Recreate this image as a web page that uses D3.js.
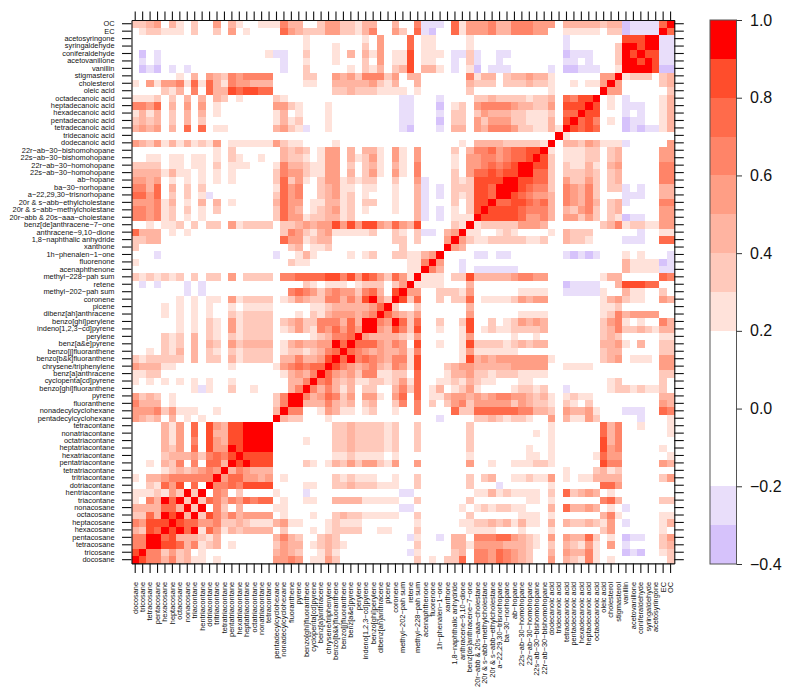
<!DOCTYPE html>
<html><head><meta charset="utf-8">
<script src="https://cdn.jsdelivr.net/npm/d3@7"></script>
<style>html,body{margin:0;padding:0;background:#fff}svg{display:block}text{font-family:"Liberation Sans",Arial,sans-serif;fill:#111}</style>
</head><body><svg id="c" width="787" height="696"></svg>
<script>
const species = ["docosane","tricosane","tetracosane","pentacosane","hexacosane","heptacosane","octacosane","nonacosane","triacontane","hentriacontane","dotriacontane","tritriacontane","tetratriacontane","pentatriacontane","hexatriacontane","heptatriacontane","octatriacontane","nonatriacontane","tetracontane","pentadecylcyclohexane","nonadecylcyclohexane","fluoranthene","pyrene","benzo[ghi]fluoranthene","cyclopenta[cd]pyrene","benz[a]anthracene","chrysene/triphenylene","benzo[b&k]fluoranthene","benzo[j]fluoranthene","benz[a&e]pyrene","perylene","indeno[1,2,3−cd]pyrene","benzo[ghi]perylene","dibenz[ah]anthracene","picene","coronene","methyl−202−pah sum","retene","methyl−228−pah sum","acenaphthenone","fluorenone","1h−phenalen−1−one","xanthone","1,8−naphthalic anhydride","anthracene−9,10−dione","benz[de]anthracene−7−one","20r−abb & 20s−aaa−cholestane","20r & s−abb−methylcholestane","20r & s−abb−ethylcholestane","a−22,29,30−trisnorhopane","ba−30−norhopane","ab−hopane","22s−ab−30−homohopane","22r−ab−30−homohopane","22s−ab−30−bishomohopane","22r−ab−30−bishomohopane","dodecanoic acid","tridecanoic acid","tetradecanoic acid","pentadecanoic acid","hexadecanoic acid","heptadecanoic acid","octadecanoic acid","oleic acid","cholesterol","stigmasterol","vanillin","acetovanillone","coniferaldehyde","syringaldehyde","acetosyringone","EC","OC"];
// Correlation class read for each cell of the lower triangle, one string per row.
// 0 = |r|<0.2, 2..9 = r in [0.n, 0.n+0.1), a = r in [-0.3,-0.2), b = r in [-0.4,-0.3)
const corrClasses = [
"9","89","669","6699","43879","658889","3374989","44447749","206497939","2223253939",
"0032758070 9","2044566666 69","0000234345 659","0020436060 7749","0000344453 67689","0000435070 855989","0000425060 8548899","0000425070 84488999","0000425070 854889999",
"5434040202 0000000009","5556352220 0200000004 9","6444020000 0000000003 69","5343020000 0000000003 699",
"000000002a 2003002000 0469","2020202020 2002000000 04469","2233000000 0000000000 245469","5444220000 0002000002 5676779",
"3233333040 3304233330 44644589","0020324040 3203233330 233234679","0000323040 4305344440 2454455979",
"0000323040 3203233330 0000234667 9","0000002020 3205233330 2353265757 59","0000002020 3205233330 3453366647 499",
"0000202020 2003233330 0020324555 4569","0000202020 2002022220 0000223444 44579","0000002020 2205233330 2354336646 489539",
"0000000a0a 0000000000 0676535655 3674089","0a0a000a0a 0000000000 0003202220 23330359","3232323030 3305033330 6677778868 587537529",
"0000000000 0000000000 0000000000 0000000229","2000000000 0000000000 0322000000 0000000226 9","000a000000 000000000a 0024200002 0230033224 59",
"3000000000 0000000000 0340223000 0000003000 009","3344000000 0000000000 7552344000 0000033030 0059","7444020200 0000000000 3653245222 223003203a a0459",
"0020223030 3305233330 3345455858 5885475480 000329","6656230202 0000000003 7552334423 000000004a 0a02229","6656230302 0300000003 7540234523 020002004a 0a020389",
"5556240204 0402000004 7550224423 033002004a 000303889","7757030302 a000000003 7560034523 020002004a 0a03238879","6647040303 0000000002 7560034522 022002004a 0a03338879 9",
"5545020202 0202000003 7352035523 233003005a 0003238888 99","4444242202 0202000003 6553225504 0352052060 0003057787 889","3333022022 0302220002 6443225503 0342042060 0002055676 7899",
"0022022022 0203200200 4332025504 2352052050 0002055665 67789","0000000000 0203000000 4343025504 0442052050 0003046675 677889","5435242423 2502222225 3220000200 0000000000 0000204444 3333329",
"0000000000 0000000000 0000000000 0000000000 0000000000 00000009","4545040707 0220000004 532a002000 000000ab00 0a04405466 653322429","3434030403 0000000002 4230002000 000000aa00 0b03305355 5332224089",
"2424030404 0200000002 4020002000 000000aa00 0a03303544 4332223077 9","6657040505 0200000005 5320002000 000000aa00 0b02305666 6544335088 89","2223030404 0430200003 2000000000 000000aa00 0a00003343 3332334076 889",
"0000324060 7448788770 0000000334 3332222020 0000030000 0000002000 0009","2052556272 7426554440 0002200444 4453240040 0000043330 3334332002 02259","0000002040 5436566660 0003300545 3666350440 0000062440 3445442000 000559",
"0bab0a0a00 0000000000 a003000002 0324034804 420a02b0aa a00000a0bb aaa0029","0a0a000000 0000000000 a002000200 0305022802 200a03a00a 00000000aa 0a000399","0b0a000000 000000002a a003000204 0425022802 220aa3a00a a0000000ba aa0003989",
"0000000000 0000000000 0002000200 0305000702 2000020000 00000000a0 0000039989","0000000000 0000000000 0002000000 0205000702 2000020000 00000000a0 0000008889 9","0233222030 0305020000 7543335533 246005307a b007255564 4666550022 222033baaa a9",
"3345042030 0504200222 6440035533 244004006a aa07255564 4666555044 444344baaa a79"];
const colorBreaks = [-0.4,-0.3,-0.2,0.2,0.3,0.4,0.5,0.6,0.7,0.8,0.9,1.0];
const colorFills = ["#D6C2FB","#E9DEFA","#FFFFFF","#FFE2DA","#FFC9BB","#FFB4A1","#FF9E85","#FF8468","#FF6B4B","#FF4D2C","#FF0000"];
const barTicks = [-0.4,-0.2,0,0.2,0.4,0.6,0.8,1.0];

const decode = ch => ch==="a"?-0.25:ch==="b"?-0.35:ch==="0"?0:(+ch)/10+0.05;
const cells = [];
corrClasses.forEach((row,j)=>{
  [...row.replace(/ /g,"")].forEach((ch,i)=>{
    const v = decode(ch);
    cells.push({x:species[i],y:species[j],v});
    if(i!==j) cells.push({x:species[j],y:species[i],v});
  });
});

const svg = d3.select("#c");
const x = d3.scaleBand().domain(species).range([131.5,674.3]).padding(0);
const y = d3.scaleBand().domain(species).range([563.4,20]).padding(0);
const color = d3.scaleThreshold().domain(colorBreaks.slice(1,-1)).range(colorFills);

svg.append("g").selectAll("rect").data(cells).join("rect")
  .attr("x",d=>x(d.x)).attr("y",d=>y(d.y))
  .attr("width",x.bandwidth()+0.4).attr("height",y.bandwidth()+0.4)
  .attr("fill",d=>color(d.v)).attr("shape-rendering","crispEdges");

const style = g=>{g.selectAll("path,line").attr("stroke","#111").attr("stroke-width",1.1);};
const noLabel = ()=>"";
svg.append("g").attr("transform","translate(131.5,0)").call(d3.axisLeft(y).tickSize(9.5).tickSizeOuter(0).tickPadding(7.5))
  .call(style).call(g=>g.selectAll("text").attr("font-size",7.4).style("font-family",'"Liberation Sans",Arial,sans-serif').attr("fill","#222"));
const bottom = svg.append("g").attr("transform","translate(0,563.4)").call(d3.axisBottom(x).tickSize(9.5).tickSizeOuter(0)).call(style);
bottom.selectAll("text").attr("font-size",7.4).style("font-family",'"Liberation Sans",Arial,sans-serif').attr("fill","#222")
  .attr("text-anchor","end").attr("dy","0.32em").attr("dx",0).attr("x",-18.5).attr("y",0).attr("transform","rotate(-90)");
svg.append("g").attr("transform","translate(0,20)").call(d3.axisTop(x).tickSize(8.5).tickSizeOuter(0).tickFormat(noLabel)).call(style);
svg.append("g").attr("transform","translate(674.3,0)").call(d3.axisRight(y).tickSize(9.5).tickSizeOuter(0).tickFormat(noLabel)).call(style);

// colour bar
const bar = d3.scaleLinear().domain([-0.4,1]).range([564,20]);
const bands = d3.pairs(colorBreaks);
svg.append("g").selectAll("rect").data(bands).join("rect")
  .attr("x",710).attr("width",26.5)
  .attr("y",d=>bar(d[1])).attr("height",d=>bar(d[0])-bar(d[1]))
  .attr("fill",(d,i)=>colorFills[i]).attr("shape-rendering","crispEdges");
svg.append("rect").attr("x",710).attr("y",20).attr("width",26.5).attr("height",544).attr("fill","none").attr("stroke","#555").attr("stroke-width",1);
const barAxis = svg.append("g").attr("transform","translate(736.5,0)")
  .call(d3.axisRight(bar).tickValues(barTicks).tickSize(5.5).tickSizeOuter(0).tickPadding(8).tickFormat(d=>d3.format(".1f")(d).replace("-","−")));
barAxis.select(".domain").remove();
barAxis.selectAll("line").attr("stroke","#333");
barAxis.selectAll("text").attr("font-size",16).style("font-family",'"Liberation Sans",Arial,sans-serif').attr("fill","#222");
</script></body></html>
